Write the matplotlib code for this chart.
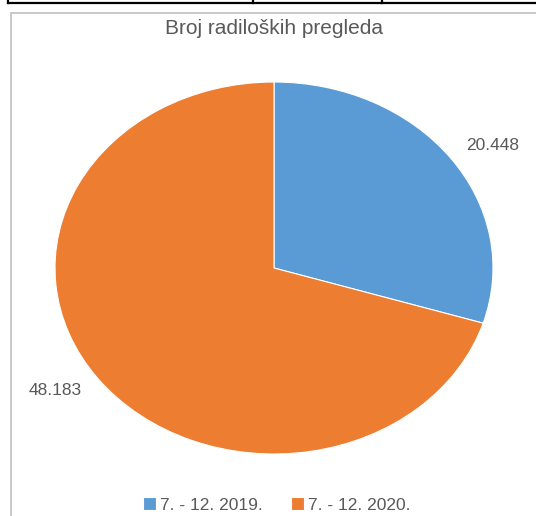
import numpy as np
import matplotlib.pyplot as plt
from matplotlib.patches import Rectangle
from matplotlib.lines import Line2D

# data
periods = ["7. - 12. 2019.", "7. - 12. 2020."]
counts = [20448, 48183]
count_labels = ["20.448", "48.183"]
colors = ["#5B9BD5", "#ED7D31"]

W, H = 536, 516
fig = plt.figure(figsize=(W / 100, H / 100), dpi=100)
plt.rcParams['font.family'] = ['Liberation Sans', 'DejaVu Sans']

# table row cut off at top of the page
fig.add_artist(Line2D([8 / W, 1], [1 - 3 / H, 1 - 3 / H], color="black", lw=1.6))
for xv in [8, 253, 382]:
	fig.add_artist(Line2D([xv / W, xv / W], [1 - 3 / H, 1], color="black", lw=1.6))

# chart frame
fig.add_artist(Rectangle((11 / W, -0.1), 1.2, 1 - 13 / H + 0.1, fill=False,
	edgecolor="#BFBFBF", lw=1.2, transform=fig.transFigure))

# pie area (ellipse, wider than tall)
ax = fig.add_axes([55 / W, (H - 454) / H, 438 / W, 372 / H])
wedges, _ = ax.pie(counts, colors=colors, startangle=90, counterclock=False,
	wedgeprops=dict(edgecolor="white", linewidth=0.8))
ax.set_aspect('auto')
ax.set_xlim(-1, 1)
ax.set_ylim(-1, 1)

for w, lab in zip(wedges, count_labels):
	mid = np.deg2rad((w.theta1 + w.theta2) / 2)
	ax.text(1.24 * np.cos(mid), 1.11 * np.sin(mid), lab, ha="center", va="center",
		fontsize=12.5, color="#595959", clip_on=False)

fig.text(274 / W, 1 - 28 / H, "Broj radiloških pregleda", ha="center", va="center",
	fontsize=15, color="#595959")

fig.legend(wedges, periods, loc="center", bbox_to_anchor=(277 / W, 1 - 505 / H),
	ncol=2, frameon=False, fontsize=12.5, labelcolor="#595959",
	handlelength=0.75, handleheight=0.75, handletextpad=0.25, columnspacing=1.6)

fig.savefig("out.png", dpi=100)
